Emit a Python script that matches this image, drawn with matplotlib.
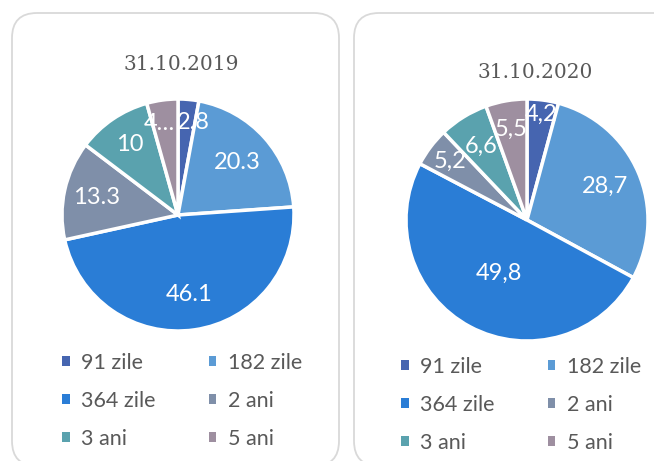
import matplotlib
matplotlib.use("Agg")
import matplotlib.pyplot as plt
from matplotlib.patches import FancyBboxPatch, Patch
import numpy as np

# ---- data ----
categories = ["91 zile", "182 zile", "364 zile", "2 ani", "3 ani", "5 ani"]
values_2019 = [2.8, 20.3, 46.1, 13.3, 10.0, 4.2]
labels_2019 = ["2.8", "20.3", "46.1", "13.3", "10", "4…"]
values_2020 = [4.2, 28.7, 49.8, 5.2, 6.6, 5.5]
labels_2020 = ["4,2", "28,7", "49,8", "5,2", "6,6", "5,5"]
titles = ["31.10.2019", "31.10.2020"]

# ---- style ----
colors = ["#4665B0", "#5B9BD5", "#2A7DD6", "#7F8FA9", "#5AA2AE", "#9E8FA0"]
label_radius_2019 = [0.80, 0.68, 0.69, 0.72, 0.74, 0.80]
label_dx_2019 = [-9.5, 0, 0, 0, 0, 9.5]          # pixel nudges for crowded labels
label_ha_2019 = ["left", "center", "center", "center", "center", "right"]
label_radius_2020 = [0.88, 0.70, 0.50, 0.80, 0.72, 0.76]
label_dx_2020 = [0, 0, 0, 0, 0, 0]
label_ha_2020 = ["center"] * 6
SANS = ["Lato", "DejaVu Sans"]
SERIF = ["DejaVu Serif"]
TXT = "#595959"

W, H = 654, 461
fig = plt.figure(figsize=(W / 100, H / 100), dpi=100)
bg = fig.add_axes([0, 0, 1, 1])
bg.set_xlim(0, W)
bg.set_ylim(H, 0)
bg.axis("off")

# panels
for (x0, y0, x1, y1) in [(12, 13, 339, 466), (354, 13, 690, 466)]:
    bg.add_patch(FancyBboxPatch((x0, y0), x1 - x0, y1 - y0,
                                boxstyle="round,pad=0,rounding_size=25",
                                facecolor="white", edgecolor="#D9D9D9", lw=1.3))


def pie_panel(cx, cy, r, values, labels, radii, dxs, has, title, title_xy, leg_xy):
    ax = fig.add_axes([(cx - r) / W, 1 - (cy + r) / H, 2 * r / W, 2 * r / H])
    wedges, _ = ax.pie(values, colors=colors, startangle=90, counterclock=False,
                       wedgeprops=dict(edgecolor="white", linewidth=2.5))
    ax.set_xlim(-1, 1)
    ax.set_ylim(-1, 1)
    ax.set_aspect("equal")
    for w, lab, rr, dx, ha in zip(wedges, labels, radii, dxs, has):
        mid = np.deg2rad((w.theta1 + w.theta2) / 2)
        ax.text(rr * np.cos(mid) + dx / r, rr * np.sin(mid), lab, color="white",
                fontsize=17, family=SANS, ha=ha, va="center")
    bg.text(title_xy[0], title_xy[1], title, fontsize=14.5, family=SERIF,
            color=TXT, ha="center", va="center")
    order = [0, 2, 4, 1, 3, 5]
    handles = [Patch(facecolor=colors[i], edgecolor="none") for i in order]
    labs = [categories[i] for i in order]
    leg = fig.legend(handles, labs, ncol=2, loc="upper left",
                     bbox_to_anchor=leg_xy, bbox_transform=bg.transData,
                     frameon=False, borderpad=0, borderaxespad=0,
                     handlelength=0.35, handleheight=0.35, handletextpad=0.55,
                     columnspacing=2.45, labelspacing=0.83,
                     prop=dict(family=SANS, size=15.5))
    for t in leg.get_texts():
        t.set_color(TXT)


pie_panel(178, 215, 116, values_2019, labels_2019, label_radius_2019,
          label_dx_2019, label_ha_2019, titles[0], (181, 64), (62, 353))
pie_panel(527, 220, 121, values_2020, labels_2020, label_radius_2020,
          label_dx_2020, label_ha_2020, titles[1], (535, 72), (401, 357))

fig.savefig("out.png", dpi=100)
